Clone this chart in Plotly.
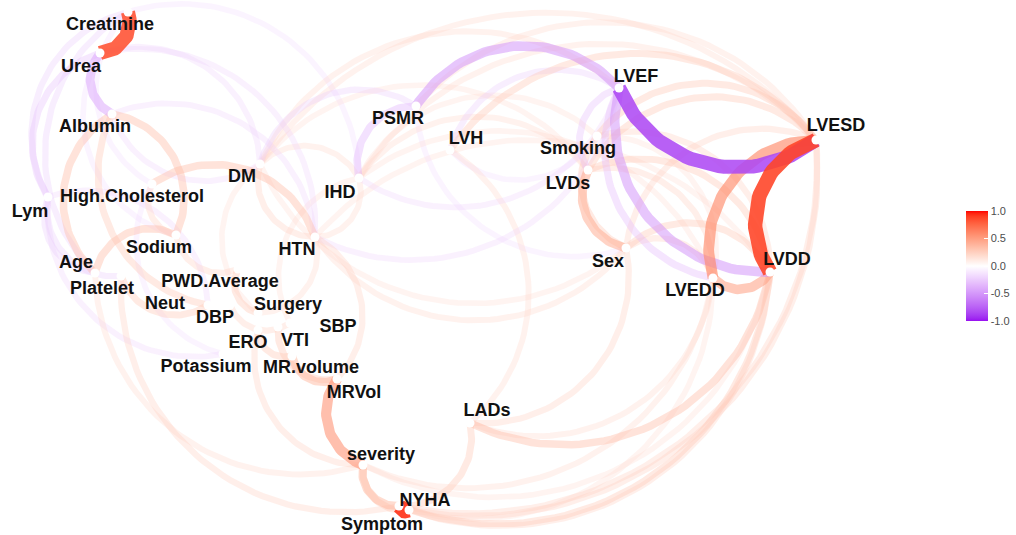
import math
import plotly.graph_objects as go

# ---------------- data ----------------
node_names = ["Creatinine", "Urea", "Albumin", "Lym", "High.Cholesterol", "DM", "Sodium",
              "Age", "Platelet", "PWD.Average", "Neut", "DBP", "Surgery", "ERO", "VTI", "SBP",
              "Potassium", "MR.volume", "MRVol", "HTN", "IHD", "PSMR", "LVH", "LVEF", "Smoking",
              "LVDs", "Sex", "LVESD", "LVDD", "LVEDD", "LADs", "severity", "NYHA", "Symptom"]
# layout coordinates of the nodes (multidimensional scaling layout)
node_x = [128, 100, 112, 48, 152, 260, 176, 95, 121, 238, 208, 230, 258, 258, 278, 290,
          223, 292, 337, 315, 359, 416, 450, 619, 597, 588, 626, 816, 770, 713, 470, 363, 399, 409]
node_y = [12, 53, 114, 197, 184, 164, 235, 273, 276, 269, 305, 305, 313, 330, 327, 323,
          354, 356, 379, 237, 178, 106, 150, 88, 136, 170, 248, 140, 272, 278, 423, 465, 506, 510]
# label placement (repelled text)
label_x = [110, 81, 95, 30, 132, 242, 159, 76, 102, 220, 165, 215, 288, 248, 295, 338,
           206, 311, 354, 297, 340, 398, 466, 636, 578, 568, 608, 836, 787, 695, 487, 381, 425, 382]
label_y = [25, 67, 127, 212, 197, 177, 248, 263, 289, 282, 304, 318, 305, 343, 341, 327,
           367, 368, 393, 250, 193, 119, 139, 77, 149, 184, 262, 126, 260, 291, 411, 455, 501, 525]

# correlation edges
edge_from = ["Urea", "LVEF", "LVESD", "LVESD", "LVEDD", "LVEF", "LVEF", "LVEF", "LVDs", "Smoking",
             "MRVol", "NYHA", "Urea", "Urea", "Creatinine", "Creatinine", "Albumin", "Sodium", "Albumin", "Lym",
             "Sodium", "HTN", "DM", "IHD", "PSMR", "HTN", "LVESD", "LVESD", "LVESD", "LVESD",
             "LVESD", "LVESD", "LVDD", "LVEDD", "LVDD", "LVDD", "LVEDD", "LADs", "NYHA", "Symptom",
             "NYHA", "severity", "Symptom", "severity", "severity", "MR.volume", "ERO", "VTI", "ERO", "Age",
             "Platelet", "PWD.Average", "Platelet", "DBP", "MRVol", "NYHA", "LADs", "IHD", "HTN", "Albumin",
             "Sodium", "Lym", "High.Cholesterol", "LVEF", "LVEF", "LVEF", "HTN", "LVDs", "Surgery", "Neut",
             "HTN", "IHD", "LVDs", "DM", "LVDD", "Smoking", "LVH", "PSMR", "DM", "HTN",
             "Lym", "Creatinine", "Urea", "High.Cholesterol", "PSMR", "IHD", "DM", "LVESD", "LVEDD", "LVEDD",
             "LADs", "LADs", "severity", "Symptom"]
edge_to = ["Creatinine", "LVESD", "LVDD", "LVEDD", "LVDD", "LVDD", "LVEDD", "PSMR", "Sex", "Sex",
           "severity", "Symptom", "Albumin", "Lym", "Lym", "Age", "Age", "Albumin", "Neut", "Potassium",
           "Age", "High.Cholesterol", "HTN", "DM", "IHD", "IHD", "LVH", "PSMR", "Smoking", "LVDs",
           "IHD", "DM", "Sex", "Sex", "LVDs", "Smoking", "LVDs", "LVDD", "LVDD", "LVESD",
           "LVESD", "LVEDD", "LVDD", "NYHA", "Symptom", "MRVol", "MR.volume", "MRVol", "severity", "severity",
           "NYHA", "Surgery", "Neut", "SBP", "HTN", "LADs", "LVH", "Creatinine", "Urea", "DM",
           "PWD.Average", "Platelet", "Sodium", "LVDs", "LVH", "DM", "Sex", "IHD", "HTN", "Lym",
           "LVEF", "LVEF", "DM", "Sex", "HTN", "IHD", "Smoking", "Sex", "Urea", "Albumin",
           "Age", "High.Cholesterol", "Sodium", "Potassium", "DM", "SBP", "Surgery", "Sex", "Smoking", "IHD",
           "Sex", "LVEDD", "LVDD", "LVEDD"]
edge_r = [0.85, -0.85, 0.88, 0.6, 0.5, -0.5, -0.32, -0.5, 0.45, 0.3,
          0.55, 0.92, -0.45, -0.3, -0.25, -0.25, 0.35, 0.35, 0.3, -0.22,
          0.35, 0.35, 0.25, 0.22, -0.35, 0.22, 0.3, 0.22, 0.3, 0.3,
          0.22, 0.22, 0.3, 0.25, 0.3, 0.25, 0.25, 0.35, 0.3, 0.25,
          0.25, 0.22, 0.25, 0.4, 0.3, 0.4, 0.3, 0.3, 0.25, 0.22,
          0.25, 0.3, 0.3, 0.25, 0.25, 0.3, 0.22, -0.2, -0.22, -0.22,
          0.25, -0.25, 0.25, -0.3, -0.25, 0.22, 0.22, 0.22, 0.22, -0.22,
          -0.22, -0.22, 0.2, 0.2, 0.2, 0.2, -0.2, -0.2, -0.22, -0.22,
          -0.25, -0.2, -0.2, -0.2, -0.25, 0.2, 0.2, 0.25, 0.2, 0.2,
          0.25, 0.22, 0.2, 0.2]

cbar_ticks = [1.0, 0.5, 0.0, -0.5, -1.0]
cbar_ticktext = ["1.0", "0.5", "0.0", "-0.5", "-1.0"]

# ---------------- colour helpers (Lab interpolation like ggplot2) ----------------
LOW, MID, HIGH = (152, 16, 240), (255, 255, 255), (255, 0, 0)


def _lin(c):
    c = c / 255.0
    return c / 12.92 if c <= 0.04045 else ((c + 0.055) / 1.055) ** 2.4


def _delin(c):
    c = max(0.0, min(1.0, c))
    c = 12.92 * c if c <= 0.0031308 else 1.055 * c ** (1 / 2.4) - 0.055
    return int(round(c * 255))


def rgb2lab(rgb):
    r, g, b = (_lin(v) for v in rgb)
    X = (0.4124 * r + 0.3576 * g + 0.1805 * b) / 0.95047
    Y = 0.2126 * r + 0.7152 * g + 0.0722 * b
    Z = (0.0193 * r + 0.1192 * g + 0.9505 * b) / 1.08883
    f = lambda t: t ** (1 / 3) if t > 0.008856 else 7.787 * t + 16 / 116
    fx, fy, fz = f(X), f(Y), f(Z)
    return (116 * fy - 16, 500 * (fx - fy), 200 * (fy - fz))


def lab2rgb(lab):
    L, a, b = lab
    fy = (L + 16) / 116
    fx, fz = fy + a / 500, fy - b / 200
    finv = lambda t: t ** 3 if t ** 3 > 0.008856 else (t - 16 / 116) / 7.787
    X, Y, Z = finv(fx) * 0.95047, finv(fy), finv(fz) * 1.08883
    r = 3.2406 * X - 1.5372 * Y - 0.4986 * Z
    g = -0.9689 * X + 1.8758 * Y + 0.0415 * Z
    bb = 0.0557 * X - 0.2040 * Y + 1.0570 * Z
    return (_delin(r), _delin(g), _delin(bb))


LAB_LOW, LAB_MID, LAB_HIGH = rgb2lab(LOW), rgb2lab(MID), rgb2lab(HIGH)


def corr_rgb(r):
    r = max(-1.0, min(1.0, r))
    if r >= 0:
        a, b, t = LAB_MID, LAB_HIGH, r
    else:
        a, b, t = LAB_MID, LAB_LOW, -r
    return lab2rgb(tuple(a[i] + (b[i] - a[i]) * t for i in range(3)))


def arc_points(x1, y1, x2, y2, n=48):
    # circular arc equivalent to geom_curve(curvature = 0.5, angle = 90)
    dx, dy = x2 - x1, y2 - y1
    d = math.hypot(dx, dy)
    px, py = -dy / d, dx / d
    theta = math.pi - 2 * math.atan(0.75)
    R = (d / 2) / math.sin(theta / 2)
    off = R * math.cos(theta / 2)
    mx, my = (x1 + x2) / 2, (y1 + y2) / 2
    cx, cy = mx - px * off, my - py * off
    a1 = math.atan2(y1 - cy, x1 - cx)
    a2 = math.atan2(y2 - cy, x2 - cx)
    da = (a2 - a1 + math.pi) % (2 * math.pi) - math.pi
    xs = [cx + R * math.cos(a1 + da * k / n) for k in range(n + 1)]
    ys = [cy + R * math.sin(a1 + da * k / n) for k in range(n + 1)]
    return xs, ys


idx = {n: i for i, n in enumerate(node_names)}
fig = go.Figure()

order = sorted(range(len(edge_r)), key=lambda i: abs(edge_r[i]))
for i in order:
    a, b, r = idx[edge_from[i]], idx[edge_to[i]], edge_r[i]
    xs, ys = arc_points(node_x[a], node_y[a], node_x[b], node_y[b])
    c = corr_rgb(r)
    alpha = 0.1 + 0.9 * abs(r)
    fig.add_trace(go.Scatter(
        x=xs, y=ys, mode="lines", hoverinfo="skip", showlegend=False,
        line=dict(color=f"rgba({c[0]},{c[1]},{c[2]},{alpha:.3f})", width=3 + 13 * abs(r)),
    ))

fig.add_trace(go.Scatter(
    x=node_x, y=node_y, mode="markers", hoverinfo="skip", showlegend=False,
    marker=dict(size=9, color="white", line=dict(width=0)),
))

fig.add_trace(go.Scatter(
    x=label_x, y=label_y, mode="text", text=node_names, textposition="middle center",
    hoverinfo="skip", showlegend=False,
    textfont=dict(family="Liberation Sans, Arial, sans-serif", size=18, color="#111111", weight="bold"),
))

scale_vals = [-1 + 2 * k / 40 for k in range(41)]
colorscale = [[(v + 1) / 2, "rgb(%d,%d,%d)" % corr_rgb(v)] for v in scale_vals]
fig.add_trace(go.Scatter(
    x=[None], y=[None], mode="markers", hoverinfo="skip", showlegend=False,
    marker=dict(color=[0], cmin=-1, cmax=1, colorscale=colorscale, showscale=True,
                colorbar=dict(
                    x=966 / 1016, xanchor="left", y=1 - 266 / 535, yanchor="middle",
                    len=110, lenmode="pixels", thickness=22, thicknessmode="pixels",
                    outlinewidth=0, xpad=0, ypad=0,
                    tickvals=cbar_ticks, ticktext=cbar_ticktext,
                    ticks="inside", ticklen=4, tickcolor="white", tickwidth=1,
                    tickfont=dict(family="Liberation Sans, Arial, sans-serif", size=11, color="#4d4d4d"),
                )),
))

fig.update_layout(
    width=1016, height=535,
    margin=dict(l=0, r=0, t=0, b=0),
    paper_bgcolor="white", plot_bgcolor="white",
    xaxis=dict(range=[0, 1016], visible=False, fixedrange=True),
    yaxis=dict(range=[535, 0], visible=False, fixedrange=True),
)

fig.write_html("out.html",
               config={"displayModeBar": False},
               post_script="document.body.style.margin='0';document.body.style.overflow='hidden';")
